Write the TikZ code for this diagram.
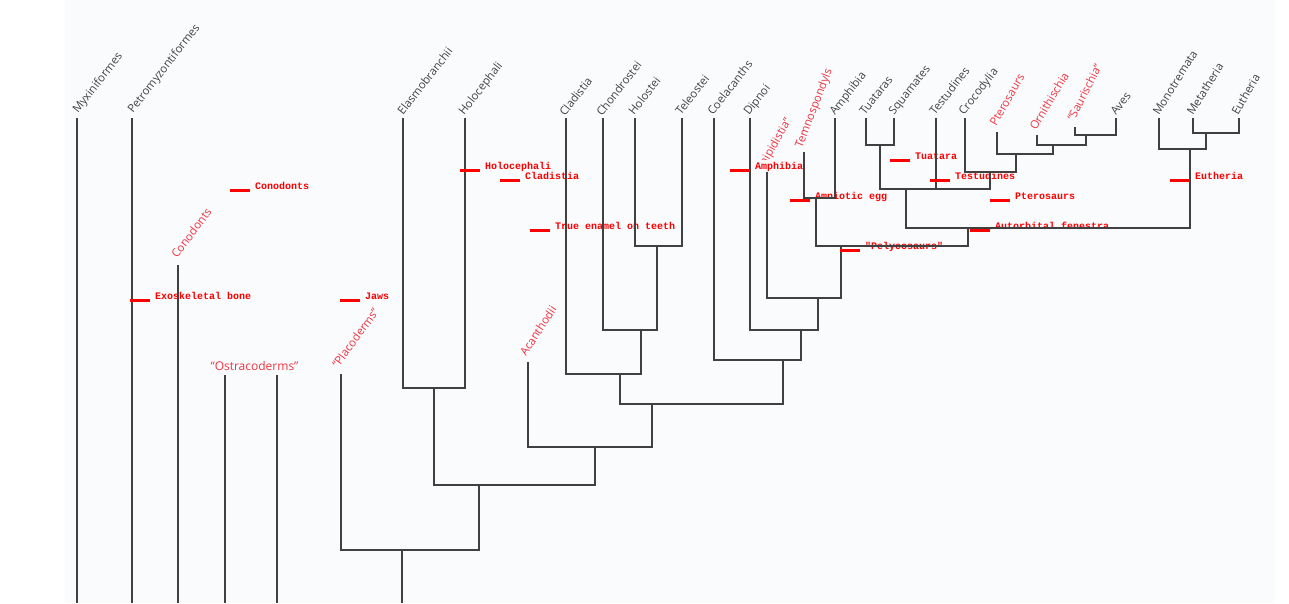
\documentclass[tikz,border=0pt]{standalone}
\usepackage{fontspec}
\setmainfont{Open Sans}
\newfontfamily\annfont{Liberation Mono}
\definecolor{panel}{HTML}{FAFBFD}
\definecolor{linec}{HTML}{404040}
\definecolor{labelc}{HTML}{444444}
\definecolor{extinct}{HTML}{EE3542}
\definecolor{annot}{HTML}{FF0000}
\begin{document}
\begin{tikzpicture}[x=1pt,y=-1pt,
  branch/.style={draw=linec,line width=1.8pt},
  lbl/.style={anchor=base west,inner sep=0pt,text=labelc,font=\fontsize{11.4}{13}\selectfont,rotate=52},
  xlbl/.style={lbl,text=extinct},
  note/.style={anchor=base west,inner sep=1pt,text=annot,fill=panel,font=\annfont\bfseries\fontsize{10}{12}\selectfont},
  notebar/.style={draw=annot,line width=3pt}]
\useasboundingbox (0,0) rectangle (1289,603);
\fill[white] (0,0) rectangle (1289,603);
\fill[panel] (65,0) rectangle (1275,603);

% ---------- leaf tops ----------
\coordinate (myx) at (77,118);   \coordinate (myxB) at (77,603);
\coordinate (pet) at (132,118);  \coordinate (petB) at (132,603);
\coordinate (con) at (178,265);  \coordinate (conB) at (178,603);
\coordinate (os1) at (225,375);  \coordinate (os1B) at (225,603);
\coordinate (os2) at (277,375);  \coordinate (os2B) at (277,603);
\coordinate (pla) at (341,374);
\coordinate (ela) at (403,118);
\coordinate (hol) at (465,118);
\coordinate (aca) at (528,362);
\coordinate (cla) at (566,118);
\coordinate (cho) at (603,118);
\coordinate (hos) at (635,118);
\coordinate (tel) at (682,118);
\coordinate (coe) at (714,118);
\coordinate (dip) at (750,118);
\coordinate (rhi) at (767,172);
\coordinate (tem) at (804,152);
\coordinate (amp) at (835,118);
\coordinate (tua) at (866,118);
\coordinate (squ) at (894,118);
\coordinate (tes) at (936,118);
\coordinate (cro) at (965,118);
\coordinate (pte) at (997,132);
\coordinate (orn) at (1037,135);
\coordinate (sau) at (1075,127);
\coordinate (ave) at (1116,118);
\coordinate (mon) at (1159,118);
\coordinate (met) at (1193,118);
\coordinate (eut) at (1239,118);

% ---------- internal nodes (stem x, bar y) ----------
\coordinate (neo) at (657,246);
\coordinate (act3) at (641,330);
\coordinate (act) at (620,374);
\coordinate (chon) at (434,388);
\coordinate (lepi) at (880,145);
\coordinate (sauave) at (1086,135);
\coordinate (dino) at (1053,145);
\coordinate (orni) at (1016,154);
\coordinate (arch) at (990,172);
\coordinate (rept) at (906,189);
\coordinate (tesB) at (936,189);
\coordinate (ther) at (1206,133);
\coordinate (mam) at (1190,149);
\coordinate (amn) at (968,228);
\coordinate (tet) at (816,198);
\coordinate (tet2) at (841,246);
\coordinate (rhin) at (818,298);
\coordinate (dipn) at (801,330);
\coordinate (coen) at (783,360);
\coordinate (oste) at (652,404);
\coordinate (acan) at (595,447);
\coordinate (gnat) at (479,485);
\coordinate (plan) at (402,550);
\coordinate (root) at (402,603);

% ---------- labels ----------
\node[lbl] (Lmyx) at (78,114) {Myxiniformes};
\node[lbl] (Lpet) at (133,114) {Petromyzontiformes};
\node[lbl] (Lela) at (403,116) {Elasmobranchii};
\node[lbl] (Lhol) at (464,116) {Holocephali};
\node[lbl] (Lcla) at (565,117) {Cladistia};
\node[lbl] (Lcho) at (602,117) {Chondrostei};
\node[lbl] (Lhos) at (634,116) {Holostei};
\node[lbl] (Ltel) at (681,116) {Teleostei};
\node[lbl] (Lcoe) at (713,116) {Coelacanths};
\node[lbl] (Ldip) at (749,116) {Dipnoi};
\node[lbl] (Lamp) at (835,116) {Amphibia};
\node[lbl] (Ltua) at (865,116) {Tuataras};
\node[lbl] (Lsqu) at (894,116) {Squamates};
\node[lbl] (Ltes) at (935,116) {Testudines};
\node[lbl] (Lcro) at (964,116) {Crocodylia};
\node[lbl] (Lave) at (1116,116) {Aves};
\node[lbl,rotate=6] (Lmon) at (1159,116) {Monotremata};
\node[lbl,rotate=6] (Lmet) at (1193,116) {Metatheria};
\node[lbl,rotate=8] (Leut) at (1238,116) {Eutheria};

\node[xlbl,rotate=1] (Lcon) at (177,259) {Conodonts};
\node[anchor=base,inner sep=0pt,text=extinct,font=\fontsize{12}{14}\selectfont] (Lost) at (254.5,370) {“Ostracoderms”};
\node[xlbl,rotate=2] (Lpla) at (338,369) {“Placoderms”};
\node[xlbl,rotate=5] (Laca) at (526,357) {Acanthodii};
\node[xlbl,rotate=8] (Lrhi) at (760,176) {“Rhipidistia”};
\node[xlbl,rotate=17] (Ltem) at (802,149) {Temnospondyls};
\node[xlbl,rotate=8] (Lpte) at (996,127) {Pterosaurs};
\node[xlbl,rotate=7] (Lorn) at (1036,131) {Ornithischia};
\node[xlbl,rotate=11] (Lsau) at (1074,122) {“Saurischia”};

% ---------- annotation texts ----------
\node[note] (nCon) at (254,189) {Conodonts};
\node[note] (nExo) at (154,299) {Exoskeletal bone};
\node[note] (nJaw) at (364,299) {Jaws};
\node[note] (nHol) at (484,169) {Holocephali};
\node[note] (nCla) at (524,179) {Cladistia};
\node[note] (nEna) at (554,229) {True enamel on teeth};
\node[note,inner sep=2pt] (nAmp) at (753,169) {Amphibia};
\node[note] (nAmn) at (814,199) {Amniotic egg};
\node[note] (nPel) at (864,249) {"Pelycosaurs"};
\node[note] (nTua) at (914,159) {Tuatara};
\node[note] (nTes) at (954,179) {Testudines};
\node[note] (nPte) at (1014,199) {Pterosaurs};
\node[note] (nAut) at (994,229) {Autorbital fenestra};
\node[note] (nEut) at (1194,179) {Eutheria};

% ---------- branches ----------
\draw[branch] (myx) -- (myxB);
\draw[branch] (pet) -- (petB);
\draw[branch] (con) -- (conB);
\draw[branch] (os1) -- (os1B);
\draw[branch] (os2) -- (os2B);
\draw[branch] (hos) |- (neo) -| (tel);
\draw[branch] (cho) |- (act3) -| (neo);
\draw[branch] (cla) |- (act) -| (act3);
\draw[branch] (ela) |- (chon) -| (hol);
\draw[branch] (tua) |- (lepi) -| (squ);
\draw[branch] (sau) |- (sauave) -| (ave);
\draw[branch] (orn) |- (dino) -| (sauave);
\draw[branch] (pte) |- (orni) -| (dino);
\draw[branch] (cro) |- (arch) -| (orni);
\draw[branch] (lepi) |- (rept) -| (arch);
\draw[branch] (tes) -- (tesB);
\draw[branch] (met) |- (ther) -| (eut);
\draw[branch] (mon) |- (mam) -| (ther);
\draw[branch] (rept) |- (amn) -| (mam);
\draw[branch] (tem) |- (tet) -| (amp);
\draw[branch] (tet) |- (tet2) -| (amn);
\draw[branch] (rhi) |- (rhin) -| (tet2);
\draw[branch] (dip) |- (dipn) -| (rhin);
\draw[branch] (coe) |- (coen) -| (dipn);
\draw[branch] (act) |- (oste) -| (coen);
\draw[branch] (aca) |- (acan) -| (oste);
\draw[branch] (chon) |- (gnat) -| (acan);
\draw[branch] (pla) |- (plan) -| (gnat);
\draw[branch] (plan) -- (root);

% ---------- annotation bars ----------
\foreach \n in {nCon,nExo,nJaw,nHol,nCla,nEna,nAmn,nPel,nTua,nTes,nPte,nAut,nEut}
  \draw[notebar] (\n.base west) ++(-24,1) -- ++(20,0);
\draw[notebar] (nAmp.base west) ++(-23,1) -- ++(20,0);
\end{tikzpicture}
\end{document}
